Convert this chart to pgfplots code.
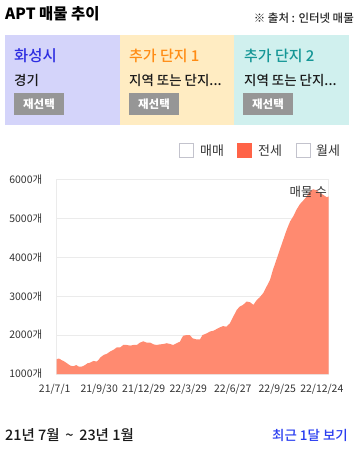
\documentclass[border=0pt]{standalone}
\usepackage{fontspec}
\setmainfont{Noto Sans CJK KR}
\newfontfamily\mediumfont{Noto Sans CJK KR Medium}
\usepackage{pgfplots}
\pgfplotsset{compat=1.18}
\definecolor{panelA}{RGB}{212,212,250}
\definecolor{panelB}{RGB}{255,236,194}
\definecolor{panelC}{RGB}{208,240,238}
\definecolor{blueT}{RGB}{45,45,225}
\definecolor{orangeT}{RGB}{255,140,20}
\definecolor{tealT}{RGB}{20,150,150}
\definecolor{btn}{RGB}{150,150,150}
\definecolor{salmonc}{RGB}{255,138,112}
\definecolor{tomatoc}{RGB}{255,99,71}
\definecolor{linkblue}{RGB}{40,60,240}
\definecolor{boxgray}{RGB}{195,195,205}
\definecolor{gridc}{RGB}{235,235,235}
\begin{document}
\begin{tikzpicture}
\path[use as bounding box] (0,0) rectangle (359bp,-449bp);
\begin{scope}[x=1bp,y=-1bp]
% title
\node[anchor=base west, inner sep=0, font=\fontsize{15.5}{17}\selectfont\bfseries] at (5,19.5) {APT 매물 추이};
\node[anchor=base east, inner sep=0, font=\fontsize{11.5}{13}\selectfont\mediumfont, text=black!85] at (354,22) {※ 출처 : 인터넷 매물};
% panels
\fill[panelA] (5,35) rectangle (120,125);
\fill[panelB] (120,35) rectangle (234,125);
\fill[panelC] (234,35) rectangle (349,125);
\node[anchor=base west, inner sep=0, font=\fontsize{15.5}{17}\selectfont\mediumfont, text=blueT] at (14,61) {화성시};
\node[anchor=base west, inner sep=0, font=\fontsize{15}{17}\selectfont\mediumfont, text=orangeT] at (129,61) {추가 단지 1};
\node[anchor=base west, inner sep=0, font=\fontsize{15}{17}\selectfont\mediumfont, text=tealT] at (244,61) {추가 단지 2};
\node[anchor=base west, inner sep=0, font=\fontsize{13.5}{15}\selectfont\mediumfont, text=black!90] at (14,85) {경기};
\node[anchor=base west, inner sep=0, font=\fontsize{13.5}{15}\selectfont\mediumfont, text=black!90] at (129,85) {지역 또는 단지...};
\node[anchor=base west, inner sep=0, font=\fontsize{13.5}{15}\selectfont\mediumfont, text=black!90] at (244,85) {지역 또는 단지...};
\foreach \bx in {14,129,243} {
  \fill[btn] (\bx,93) rectangle (\bx+50,115);
  \node[inner sep=0, font=\fontsize{11.5}{13}\selectfont\bfseries, text=white] at (\bx+25,104) {재선택};
}
% legend
\draw[boxgray, line width=0.8bp, fill=white] (179.5,143.5) rectangle (193.5,157.5);
\node[anchor=west, inner sep=0, font=\fontsize{13}{15}\selectfont, text=black!80] at (200,150.5) {매매};
\draw[tomatoc, line width=0.8bp, fill=tomatoc] (237.5,143.5) rectangle (251.5,157.5);
\node[anchor=west, inner sep=0, font=\fontsize{13}{15}\selectfont, text=black!80] at (258,150.5) {전세};
\draw[boxgray, line width=0.8bp, fill=white] (296.5,143.5) rectangle (310.5,157.5);
\node[anchor=west, inner sep=0, font=\fontsize{13}{15}\selectfont, text=black!80] at (316,150.5) {월세};
% bottom
\node[anchor=base west, inner sep=0, font=\fontsize{14.5}{16}\selectfont\mediumfont, text=black!90] at (5,440) {21년 7월 \,\textasciitilde\, 23년 1월};
\node[anchor=base east, inner sep=0, font=\fontsize{13.5}{15}\selectfont\mediumfont, text=linkblue] at (348,440) {최근 1달 보기};
\end{scope}
\begin{axis}[
  at={(56.7bp,-374bp)}, anchor=south west,
  scale only axis, width=272bp, height=194.7bp,
  xmin=0, xmax=556, ymin=1000, ymax=6000,
  axis line style={draw=gridc, line width=0.8bp},
  ymajorgrids, major grid style={draw=gridc, line width=0.8bp},
  major tick length=0,
  ytick={1000,2000,3000,4000,5000,6000},
  yticklabels={1000개,2000개,3000개,4000개,5000개,6000개},
  xtick={0,91,182,273,364,455,546},
  xticklabels={21/7/1,21/9/30,21/12/29,22/3/29,22/6/27,22/9/25,22/12/24},
  tick label style={font=\fontsize{10.5}{12}\selectfont, text=black!80},
  yticklabel style={xshift=-11bp},
  xticklabel style={yshift=-7bp, xshift=-2bp},
]
\addplot[draw=none, fill=salmonc] coordinates {
(0,1378)(3,1395)(6,1390)(10,1355)(14,1334)(18,1300)(21,1275)(25,1240)(28,1215)(34,1200)(40,1230)(45,1190)(51,1190)(55,1210)(58,1230)(63,1275)(68,1290)(75,1335)(82,1320)(86,1370)(89,1420)(96,1490)(102,1515)(109,1575)(116,1620)(123,1685)(130,1685)(136,1745)(143,1745)(150,1730)(157,1745)(164,1745)(170,1805)(177,1840)(184,1805)(191,1805)(198,1760)(204,1745)(211,1760)(218,1770)(225,1790)(232,1770)(238,1745)(245,1790)(252,1830)(256,1930)(259,1985)(266,2000)(272,2000)(278,1915)(285,1890)(293,1890)(298,2000)(307,2045)(313,2090)(320,2110)(327,2155)(334,2200)(340,2230)(347,2215)(354,2300)(361,2475)(368,2645)(374,2730)(381,2775)(388,2860)(395,2845)(402,2775)(409,2900)(415,2970)(422,3075)(429,3245)(436,3415)(442,3675)(449,3930)(456,4190)(463,4445)(470,4700)(477,4915)(484,5060)(490,5215)(497,5360)(504,5455)(511,5560)(517,5685)(524,5745)(531,5720)(538,5645)(545,5600)(552,5540)(556,5560)
} \closedcycle;
\end{axis}
\node[anchor=base east, inner sep=0, font=\fontsize{12.5}{14}\selectfont, text=black!80] at (327bp,-196bp) {매물 수};
\end{tikzpicture}
\end{document}
